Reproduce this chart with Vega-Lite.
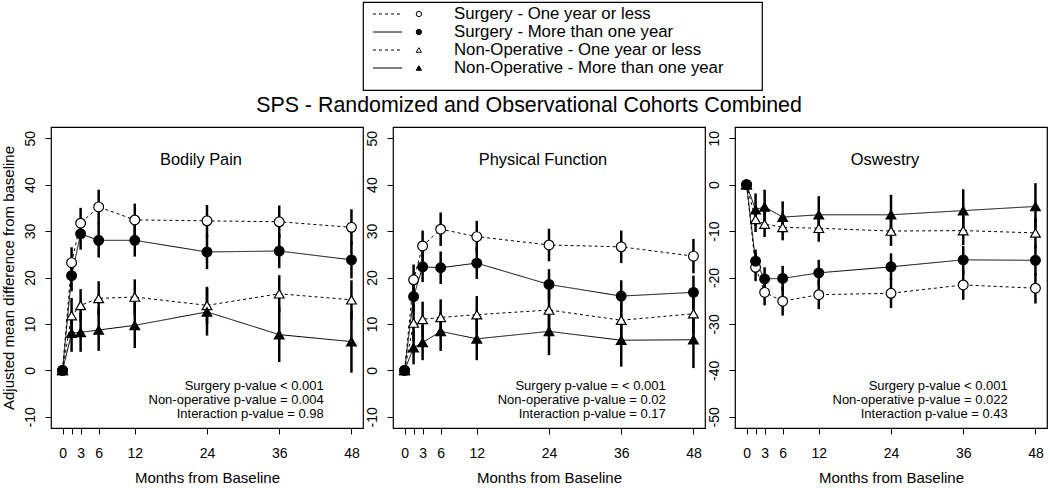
{
  "$schema": "https://vega.github.io/schema/vega-lite/v6.json",
  "padding": {"left": 0, "top": 1, "right": 0, "bottom": 0},
  "autosize": {"type": "pad"},
  "background": "white",
  "datasets": {
    "legend": [
      {"series": "Surgery - One year or less"},
      {"series": "Surgery - More than one year"},
      {"series": "Non-Operative - One year or less"},
      {"series": "Non-Operative - More than one year"}
    ],
    "d": [
      {"panel": "Bodily Pain", "series": "Surgery - One year or less", "month": 0, "mean": 0, "lo": null, "hi": null},
      {"panel": "Bodily Pain", "series": "Surgery - One year or less", "month": 1.5, "mean": 23.2, "lo": 19.9, "hi": 26.5},
      {"panel": "Bodily Pain", "series": "Surgery - One year or less", "month": 3, "mean": 31.7, "lo": 28.3, "hi": 35.0},
      {"panel": "Bodily Pain", "series": "Surgery - One year or less", "month": 6, "mean": 35.2, "lo": 31.4, "hi": 38.9},
      {"panel": "Bodily Pain", "series": "Surgery - One year or less", "month": 12, "mean": 32.4, "lo": 29.0, "hi": 35.9},
      {"panel": "Bodily Pain", "series": "Surgery - One year or less", "month": 24, "mean": 32.2, "lo": 28.7, "hi": 35.6},
      {"panel": "Bodily Pain", "series": "Surgery - One year or less", "month": 36, "mean": 32.0, "lo": 28.5, "hi": 35.5},
      {"panel": "Bodily Pain", "series": "Surgery - One year or less", "month": 48, "mean": 30.8, "lo": 27.0, "hi": 34.7},
      {"panel": "Bodily Pain", "series": "Surgery - More than one year", "month": 0, "mean": 0, "lo": null, "hi": null},
      {"panel": "Bodily Pain", "series": "Surgery - More than one year", "month": 1.5, "mean": 20.4, "lo": 17.0, "hi": 23.8},
      {"panel": "Bodily Pain", "series": "Surgery - More than one year", "month": 3, "mean": 29.4, "lo": 26.0, "hi": 32.8},
      {"panel": "Bodily Pain", "series": "Surgery - More than one year", "month": 6, "mean": 28.0, "lo": 24.3, "hi": 31.7},
      {"panel": "Bodily Pain", "series": "Surgery - More than one year", "month": 12, "mean": 28.0, "lo": 24.5, "hi": 31.5},
      {"panel": "Bodily Pain", "series": "Surgery - More than one year", "month": 24, "mean": 25.5, "lo": 21.8, "hi": 29.2},
      {"panel": "Bodily Pain", "series": "Surgery - More than one year", "month": 36, "mean": 25.7, "lo": 22.0, "hi": 29.4},
      {"panel": "Bodily Pain", "series": "Surgery - More than one year", "month": 48, "mean": 23.8, "lo": 19.8, "hi": 27.8},
      {"panel": "Bodily Pain", "series": "Non-Operative - One year or less", "month": 0, "mean": 0, "lo": null, "hi": null},
      {"panel": "Bodily Pain", "series": "Non-Operative - One year or less", "month": 1.5, "mean": 11.8, "lo": 8.0, "hi": 15.6},
      {"panel": "Bodily Pain", "series": "Non-Operative - One year or less", "month": 3, "mean": 14.0, "lo": 10.5, "hi": 17.5},
      {"panel": "Bodily Pain", "series": "Non-Operative - One year or less", "month": 6, "mean": 15.5, "lo": 11.8, "hi": 19.2},
      {"panel": "Bodily Pain", "series": "Non-Operative - One year or less", "month": 12, "mean": 15.8, "lo": 12.0, "hi": 19.6},
      {"panel": "Bodily Pain", "series": "Non-Operative - One year or less", "month": 24, "mean": 14.0, "lo": 10.0, "hi": 18.0},
      {"panel": "Bodily Pain", "series": "Non-Operative - One year or less", "month": 36, "mean": 16.5, "lo": 12.5, "hi": 20.5},
      {"panel": "Bodily Pain", "series": "Non-Operative - One year or less", "month": 48, "mean": 15.2, "lo": 11.0, "hi": 19.4},
      {"panel": "Bodily Pain", "series": "Non-Operative - More than one year", "month": 0, "mean": 0, "lo": null, "hi": null},
      {"panel": "Bodily Pain", "series": "Non-Operative - More than one year", "month": 1.5, "mean": 8.0, "lo": 4.0, "hi": 12.0},
      {"panel": "Bodily Pain", "series": "Non-Operative - More than one year", "month": 3, "mean": 8.2, "lo": 4.0, "hi": 12.4},
      {"panel": "Bodily Pain", "series": "Non-Operative - More than one year", "month": 6, "mean": 8.7, "lo": 4.2, "hi": 13.2},
      {"panel": "Bodily Pain", "series": "Non-Operative - More than one year", "month": 12, "mean": 9.7, "lo": 4.8, "hi": 14.6},
      {"panel": "Bodily Pain", "series": "Non-Operative - More than one year", "month": 24, "mean": 12.6, "lo": 7.5, "hi": 17.7},
      {"panel": "Bodily Pain", "series": "Non-Operative - More than one year", "month": 36, "mean": 7.7, "lo": 1.8, "hi": 13.6},
      {"panel": "Bodily Pain", "series": "Non-Operative - More than one year", "month": 48, "mean": 6.2, "lo": -0.5, "hi": 12.9},

      {"panel": "Physical Function", "series": "Surgery - One year or less", "month": 0, "mean": 0, "lo": null, "hi": null},
      {"panel": "Physical Function", "series": "Surgery - One year or less", "month": 1.5, "mean": 19.5, "lo": 16.2, "hi": 22.8},
      {"panel": "Physical Function", "series": "Surgery - One year or less", "month": 3, "mean": 26.8, "lo": 23.5, "hi": 30.1},
      {"panel": "Physical Function", "series": "Surgery - One year or less", "month": 6, "mean": 30.4, "lo": 26.8, "hi": 34.0},
      {"panel": "Physical Function", "series": "Surgery - One year or less", "month": 12, "mean": 28.8, "lo": 25.4, "hi": 32.2},
      {"panel": "Physical Function", "series": "Surgery - One year or less", "month": 24, "mean": 27.0, "lo": 23.5, "hi": 30.5},
      {"panel": "Physical Function", "series": "Surgery - One year or less", "month": 36, "mean": 26.6, "lo": 23.1, "hi": 30.1},
      {"panel": "Physical Function", "series": "Surgery - One year or less", "month": 48, "mean": 24.6, "lo": 20.9, "hi": 28.3},
      {"panel": "Physical Function", "series": "Surgery - More than one year", "month": 0, "mean": 0, "lo": null, "hi": null},
      {"panel": "Physical Function", "series": "Surgery - More than one year", "month": 1.5, "mean": 15.9, "lo": 12.5, "hi": 19.3},
      {"panel": "Physical Function", "series": "Surgery - More than one year", "month": 3, "mean": 22.3, "lo": 19.0, "hi": 25.6},
      {"panel": "Physical Function", "series": "Surgery - More than one year", "month": 6, "mean": 22.1, "lo": 18.6, "hi": 25.6},
      {"panel": "Physical Function", "series": "Surgery - More than one year", "month": 12, "mean": 23.1, "lo": 19.7, "hi": 26.5},
      {"panel": "Physical Function", "series": "Surgery - More than one year", "month": 24, "mean": 18.5, "lo": 15.2, "hi": 21.8},
      {"panel": "Physical Function", "series": "Surgery - More than one year", "month": 36, "mean": 16.0, "lo": 12.6, "hi": 19.4},
      {"panel": "Physical Function", "series": "Surgery - More than one year", "month": 48, "mean": 16.8, "lo": 13.2, "hi": 20.4},
      {"panel": "Physical Function", "series": "Non-Operative - One year or less", "month": 0, "mean": 0, "lo": null, "hi": null},
      {"panel": "Physical Function", "series": "Non-Operative - One year or less", "month": 1.5, "mean": 10.2, "lo": 6.3, "hi": 14.1},
      {"panel": "Physical Function", "series": "Non-Operative - One year or less", "month": 3, "mean": 11.0, "lo": 7.2, "hi": 14.8},
      {"panel": "Physical Function", "series": "Non-Operative - One year or less", "month": 6, "mean": 11.4, "lo": 7.5, "hi": 15.3},
      {"panel": "Physical Function", "series": "Non-Operative - One year or less", "month": 12, "mean": 12.0, "lo": 8.0, "hi": 16.0},
      {"panel": "Physical Function", "series": "Non-Operative - One year or less", "month": 24, "mean": 13.0, "lo": 8.8, "hi": 17.2},
      {"panel": "Physical Function", "series": "Non-Operative - One year or less", "month": 36, "mean": 10.8, "lo": 6.6, "hi": 15.0},
      {"panel": "Physical Function", "series": "Non-Operative - One year or less", "month": 48, "mean": 12.2, "lo": 7.8, "hi": 16.6},
      {"panel": "Physical Function", "series": "Non-Operative - More than one year", "month": 0, "mean": 0, "lo": null, "hi": null},
      {"panel": "Physical Function", "series": "Non-Operative - More than one year", "month": 1.5, "mean": 4.9, "lo": 1.3, "hi": 8.5},
      {"panel": "Physical Function", "series": "Non-Operative - More than one year", "month": 3, "mean": 6.0, "lo": 2.2, "hi": 9.8},
      {"panel": "Physical Function", "series": "Non-Operative - More than one year", "month": 6, "mean": 8.4, "lo": 4.2, "hi": 12.6},
      {"panel": "Physical Function", "series": "Non-Operative - More than one year", "month": 12, "mean": 6.8, "lo": 2.2, "hi": 11.4},
      {"panel": "Physical Function", "series": "Non-Operative - More than one year", "month": 24, "mean": 8.4, "lo": 3.3, "hi": 13.5},
      {"panel": "Physical Function", "series": "Non-Operative - More than one year", "month": 36, "mean": 6.5, "lo": 0.8, "hi": 12.2},
      {"panel": "Physical Function", "series": "Non-Operative - More than one year", "month": 48, "mean": 6.6, "lo": 0.5, "hi": 12.7},

      {"panel": "Oswestry", "series": "Surgery - One year or less", "month": 0, "mean": 0, "lo": null, "hi": null},
      {"panel": "Oswestry", "series": "Surgery - One year or less", "month": 1.5, "mean": -17.8, "lo": -20.8, "hi": -14.8},
      {"panel": "Oswestry", "series": "Surgery - One year or less", "month": 3, "mean": -23.2, "lo": -26.0, "hi": -20.4},
      {"panel": "Oswestry", "series": "Surgery - One year or less", "month": 6, "mean": -25.1, "lo": -28.2, "hi": -22.0},
      {"panel": "Oswestry", "series": "Surgery - One year or less", "month": 12, "mean": -23.7, "lo": -26.8, "hi": -20.6},
      {"panel": "Oswestry", "series": "Surgery - One year or less", "month": 24, "mean": -23.4, "lo": -26.6, "hi": -20.2},
      {"panel": "Oswestry", "series": "Surgery - One year or less", "month": 36, "mean": -21.6, "lo": -24.8, "hi": -18.4},
      {"panel": "Oswestry", "series": "Surgery - One year or less", "month": 48, "mean": -22.3, "lo": -25.6, "hi": -19.0},
      {"panel": "Oswestry", "series": "Surgery - More than one year", "month": 0, "mean": 0, "lo": null, "hi": null},
      {"panel": "Oswestry", "series": "Surgery - More than one year", "month": 1.5, "mean": -16.5, "lo": -19.0, "hi": -14.0},
      {"panel": "Oswestry", "series": "Surgery - More than one year", "month": 3, "mean": -20.3, "lo": -22.8, "hi": -17.8},
      {"panel": "Oswestry", "series": "Surgery - More than one year", "month": 6, "mean": -20.2, "lo": -22.9, "hi": -17.5},
      {"panel": "Oswestry", "series": "Surgery - More than one year", "month": 12, "mean": -19.0, "lo": -21.8, "hi": -16.2},
      {"panel": "Oswestry", "series": "Surgery - More than one year", "month": 24, "mean": -17.7, "lo": -20.6, "hi": -14.8},
      {"panel": "Oswestry", "series": "Surgery - More than one year", "month": 36, "mean": -16.2, "lo": -19.2, "hi": -13.2},
      {"panel": "Oswestry", "series": "Surgery - More than one year", "month": 48, "mean": -16.3, "lo": -19.6, "hi": -13.0},
      {"panel": "Oswestry", "series": "Non-Operative - One year or less", "month": 0, "mean": 0, "lo": null, "hi": null},
      {"panel": "Oswestry", "series": "Non-Operative - One year or less", "month": 1.5, "mean": -7.5, "lo": -10.2, "hi": -4.8},
      {"panel": "Oswestry", "series": "Non-Operative - One year or less", "month": 3, "mean": -8.5, "lo": -11.3, "hi": -5.7},
      {"panel": "Oswestry", "series": "Non-Operative - One year or less", "month": 6, "mean": -9.2, "lo": -12.0, "hi": -6.4},
      {"panel": "Oswestry", "series": "Non-Operative - One year or less", "month": 12, "mean": -9.4, "lo": -12.3, "hi": -6.5},
      {"panel": "Oswestry", "series": "Non-Operative - One year or less", "month": 24, "mean": -10.0, "lo": -13.2, "hi": -6.8},
      {"panel": "Oswestry", "series": "Non-Operative - One year or less", "month": 36, "mean": -9.9, "lo": -13.0, "hi": -6.8},
      {"panel": "Oswestry", "series": "Non-Operative - One year or less", "month": 48, "mean": -10.4, "lo": -13.7, "hi": -7.1},
      {"panel": "Oswestry", "series": "Non-Operative - More than one year", "month": 0, "mean": 0, "lo": null, "hi": null},
      {"panel": "Oswestry", "series": "Non-Operative - More than one year", "month": 1.5, "mean": -5.4, "lo": -8.9, "hi": -1.9},
      {"panel": "Oswestry", "series": "Non-Operative - More than one year", "month": 3, "mean": -4.8, "lo": -8.5, "hi": -1.1},
      {"panel": "Oswestry", "series": "Non-Operative - More than one year", "month": 6, "mean": -7.0, "lo": -10.4, "hi": -3.6},
      {"panel": "Oswestry", "series": "Non-Operative - More than one year", "month": 12, "mean": -6.5, "lo": -10.5, "hi": -2.5},
      {"panel": "Oswestry", "series": "Non-Operative - More than one year", "month": 24, "mean": -6.5, "lo": -10.8, "hi": -2.2},
      {"panel": "Oswestry", "series": "Non-Operative - More than one year", "month": 36, "mean": -5.6, "lo": -10.2, "hi": -1.0},
      {"panel": "Oswestry", "series": "Non-Operative - More than one year", "month": 48, "mean": -4.7, "lo": -9.4, "hi": 0.3}
    ]
  },
  "vconcat": [
    {
      "spacing": 0,
      "hconcat": [
        {
          "width": 311, "height": 88,
          "view": {"stroke": null},
          "data": {"values": [{}]},
          "mark": {"type": "point", "opacity": 0},
          "encoding": {}
        },
        {
          "width": 399, "height": 88,
          "data": {"name": "legend"},
          "encoding": {
            "y": {"field": "series", "type": "nominal", "sort": null, "axis": null,
                  "scale": {"type": "point", "range": [12, 66], "padding": 0}}
          },
          "layer": [
            {
              "mark": {"type": "rule", "stroke": "black", "strokeWidth": 1},
              "encoding": {
                "x": {"datum": 2.5, "type": "quantitative", "scale": {"domain": [0, 100]}, "axis": null},
                "x2": {"datum": 9.8},
                "strokeDash": {"field": "series", "type": "nominal", "legend": null,
                  "scale": {"domain": ["Surgery - One year or less", "Surgery - More than one year", "Non-Operative - One year or less", "Non-Operative - More than one year"],
                            "range": [[3, 3], [1, 0], [3, 3], [1, 0]]}}
              }
            },
            {
              "mark": {"type": "point", "filled": true, "stroke": "black", "strokeWidth": 1, "opacity": 1, "size": 28},
              "encoding": {
                "x": {"datum": 14, "type": "quantitative"},
                "shape": {"field": "series", "type": "nominal", "legend": null,
                  "scale": {"domain": ["Surgery - One year or less", "Surgery - More than one year", "Non-Operative - One year or less", "Non-Operative - More than one year"],
                            "range": ["circle", "circle", "triangle-up", "triangle-up"]}},
                "fill": {"field": "series", "type": "nominal", "legend": null,
                  "scale": {"domain": ["Surgery - One year or less", "Surgery - More than one year", "Non-Operative - One year or less", "Non-Operative - More than one year"],
                            "range": ["white", "black", "white", "black"]}}
              }
            },
            {
              "mark": {"type": "text", "align": "left", "baseline": "middle", "fontSize": 16.8, "font": "Liberation Sans", "color": "black"},
              "encoding": {
                "x": {"datum": 22.8, "type": "quantitative"},
                "text": {"field": "series"}
              }
            }
          ]
        }
      ]
    },
    {
      "title": {"text": "SPS - Randomized and Observational Cohorts Combined", "anchor": "middle", "offset": 10, "dx": 5},
      "spacing": 30,
      "bounds": "flush",
      "hconcat": [
        {
          "width": 312, "height": 301,
          "layer": [
            {
              "data": {"name": "d"},
              "transform": [{"filter": "datum.panel == 'Bodily Pain' && datum.month > 0"}],
              "mark": {"type": "rule", "stroke": "black", "strokeWidth": 2.5},
              "encoding": {
                "x": {"field": "month", "type": "quantitative", "scale": {"domain": [-1.92, 49.92], "nice": false, "zero": false},
                      "axis": {"values": [0, 1.5, 3, 6, 12, 24, 36, 48], "labelExpr": "datum.value == 1.5 ? '' : datum.label", "title": "Months from Baseline", "labelFlush": false, "labelOverlap": false}},
                "y": {"field": "lo", "type": "quantitative", "scale": {"domain": [-12.4, 52.4], "nice": false, "zero": false},
                      "axis": {"values": [-10, 0, 10, 20, 30, 40, 50], "labelExpr": "'' + datum.value", "title": "Adjusted mean difference from baseline"}},
                "y2": {"field": "hi"}
              }
            },
            {
              "data": {"name": "d"},
              "transform": [{"filter": "datum.panel == 'Bodily Pain'"}],
              "mark": {"type": "line", "stroke": "black", "strokeWidth": 1},
              "encoding": {
                "x": {"field": "month", "type": "quantitative"},
                "y": {"field": "mean", "type": "quantitative"},
                "detail": {"field": "series"},
                "strokeDash": {"field": "series", "type": "nominal", "legend": null,
                  "scale": {"domain": ["Surgery - One year or less", "Surgery - More than one year", "Non-Operative - One year or less", "Non-Operative - More than one year"],
                            "range": [[5, 4], [1, 0], [5, 4], [1, 0]]}}
              }
            },
            {
              "data": {"name": "d"},
              "transform": [{"filter": "datum.panel == 'Bodily Pain'"}],
              "mark": {"type": "point", "filled": true, "stroke": "black", "strokeWidth": 1.2, "opacity": 1, "size": 95},
              "encoding": {
                "x": {"field": "month", "type": "quantitative"},
                "y": {"field": "mean", "type": "quantitative"},
                "shape": {"field": "series", "type": "nominal", "legend": null,
                  "scale": {"domain": ["Surgery - One year or less", "Surgery - More than one year", "Non-Operative - One year or less", "Non-Operative - More than one year"],
                            "range": ["circle", "circle", "triangle-up", "triangle-up"]}},
                "fill": {"field": "series", "type": "nominal", "legend": null,
                  "scale": {"domain": ["Surgery - One year or less", "Surgery - More than one year", "Non-Operative - One year or less", "Non-Operative - More than one year"],
                            "range": ["transparent", "black", "transparent", "black"]}}
              }
            },
            {
              "data": {"values": [{}]},
              "mark": {"type": "text", "fontSize": 16.4, "align": "center", "baseline": "middle"},
              "encoding": {"x": {"datum": 23}, "y": {"datum": 45.3}, "text": {"value": "Bodily Pain"}}
            },
            {
              "data": {"values": [{}]},
              "mark": {"type": "text", "fontSize": 13, "align": "right", "baseline": "middle", "lineHeight": 14,
                       "text": ["Surgery p-value < 0.001", "Non-operative p-value = 0.004", "Interaction p-value = 0.98"]},
              "encoding": {"x": {"datum": 43.4}, "y": {"datum": -3.4}}
            }
          ]
        },
        {
          "width": 312, "height": 301,
          "layer": [
            {
              "data": {"name": "d"},
              "transform": [{"filter": "datum.panel == 'Physical Function' && datum.month > 0"}],
              "mark": {"type": "rule", "stroke": "black", "strokeWidth": 2.5},
              "encoding": {
                "x": {"field": "month", "type": "quantitative", "scale": {"domain": [-1.92, 49.92], "nice": false, "zero": false},
                      "axis": {"values": [0, 1.5, 3, 6, 12, 24, 36, 48], "labelExpr": "datum.value == 1.5 ? '' : datum.label", "title": "Months from Baseline", "labelFlush": false, "labelOverlap": false}},
                "y": {"field": "lo", "type": "quantitative", "scale": {"domain": [-12.4, 52.4], "nice": false, "zero": false},
                      "axis": {"values": [-10, 0, 10, 20, 30, 40, 50], "labelExpr": "'' + datum.value", "title": null}},
                "y2": {"field": "hi"}
              }
            },
            {
              "data": {"name": "d"},
              "transform": [{"filter": "datum.panel == 'Physical Function'"}],
              "mark": {"type": "line", "stroke": "black", "strokeWidth": 1},
              "encoding": {
                "x": {"field": "month", "type": "quantitative"},
                "y": {"field": "mean", "type": "quantitative"},
                "detail": {"field": "series"},
                "strokeDash": {"field": "series", "type": "nominal", "legend": null,
                  "scale": {"domain": ["Surgery - One year or less", "Surgery - More than one year", "Non-Operative - One year or less", "Non-Operative - More than one year"],
                            "range": [[5, 4], [1, 0], [5, 4], [1, 0]]}}
              }
            },
            {
              "data": {"name": "d"},
              "transform": [{"filter": "datum.panel == 'Physical Function'"}],
              "mark": {"type": "point", "filled": true, "stroke": "black", "strokeWidth": 1.2, "opacity": 1, "size": 95},
              "encoding": {
                "x": {"field": "month", "type": "quantitative"},
                "y": {"field": "mean", "type": "quantitative"},
                "shape": {"field": "series", "type": "nominal", "legend": null,
                  "scale": {"domain": ["Surgery - One year or less", "Surgery - More than one year", "Non-Operative - One year or less", "Non-Operative - More than one year"],
                            "range": ["circle", "circle", "triangle-up", "triangle-up"]}},
                "fill": {"field": "series", "type": "nominal", "legend": null,
                  "scale": {"domain": ["Surgery - One year or less", "Surgery - More than one year", "Non-Operative - One year or less", "Non-Operative - More than one year"],
                            "range": ["transparent", "black", "transparent", "black"]}}
              }
            },
            {
              "data": {"values": [{}]},
              "mark": {"type": "text", "fontSize": 16.4, "align": "center", "baseline": "middle"},
              "encoding": {"x": {"datum": 23}, "y": {"datum": 45.3}, "text": {"value": "Physical Function"}}
            },
            {
              "data": {"values": [{}]},
              "mark": {"type": "text", "fontSize": 13, "align": "right", "baseline": "middle", "lineHeight": 14,
                       "text": ["Surgery p-value = < 0.001", "Non-operative p-value = 0.02 ", "Interaction p-value = 0.17"]},
              "encoding": {"x": {"datum": 43.4}, "y": {"datum": -3.4}}
            }
          ]
        },
        {
          "width": 312, "height": 301,
          "layer": [
            {
              "data": {"name": "d"},
              "transform": [{"filter": "datum.panel == 'Oswestry' && datum.month > 0"}],
              "mark": {"type": "rule", "stroke": "black", "strokeWidth": 2.5},
              "encoding": {
                "x": {"field": "month", "type": "quantitative", "scale": {"domain": [-1.92, 49.92], "nice": false, "zero": false},
                      "axis": {"values": [0, 1.5, 3, 6, 12, 24, 36, 48], "labelExpr": "datum.value == 1.5 ? '' : datum.label", "title": "Months from Baseline", "labelFlush": false, "labelOverlap": false}},
                "y": {"field": "lo", "type": "quantitative", "scale": {"domain": [-52.4, 12.4], "nice": false, "zero": false},
                      "axis": {"values": [-50, -40, -30, -20, -10, 0, 10], "labelExpr": "'' + datum.value", "title": null}},
                "y2": {"field": "hi"}
              }
            },
            {
              "data": {"name": "d"},
              "transform": [{"filter": "datum.panel == 'Oswestry'"}],
              "mark": {"type": "line", "stroke": "black", "strokeWidth": 1},
              "encoding": {
                "x": {"field": "month", "type": "quantitative"},
                "y": {"field": "mean", "type": "quantitative"},
                "detail": {"field": "series"},
                "strokeDash": {"field": "series", "type": "nominal", "legend": null,
                  "scale": {"domain": ["Surgery - One year or less", "Surgery - More than one year", "Non-Operative - One year or less", "Non-Operative - More than one year"],
                            "range": [[5, 4], [1, 0], [5, 4], [1, 0]]}}
              }
            },
            {
              "data": {"name": "d"},
              "transform": [{"filter": "datum.panel == 'Oswestry'"}],
              "mark": {"type": "point", "filled": true, "stroke": "black", "strokeWidth": 1.2, "opacity": 1, "size": 95},
              "encoding": {
                "x": {"field": "month", "type": "quantitative"},
                "y": {"field": "mean", "type": "quantitative"},
                "shape": {"field": "series", "type": "nominal", "legend": null,
                  "scale": {"domain": ["Surgery - One year or less", "Surgery - More than one year", "Non-Operative - One year or less", "Non-Operative - More than one year"],
                            "range": ["circle", "circle", "triangle-up", "triangle-up"]}},
                "fill": {"field": "series", "type": "nominal", "legend": null,
                  "scale": {"domain": ["Surgery - One year or less", "Surgery - More than one year", "Non-Operative - One year or less", "Non-Operative - More than one year"],
                            "range": ["transparent", "black", "transparent", "black"]}}
              }
            },
            {
              "data": {"values": [{}]},
              "mark": {"type": "text", "fontSize": 16.4, "align": "center", "baseline": "middle"},
              "encoding": {"x": {"datum": 23}, "y": {"datum": 5.3}, "text": {"value": "Oswestry"}}
            },
            {
              "data": {"values": [{}]},
              "mark": {"type": "text", "fontSize": 13, "align": "right", "baseline": "middle", "lineHeight": 14,
                       "text": ["Surgery p-value < 0.001", "Non-operative p-value = 0.022", "Interaction p-value = 0.43"]},
              "encoding": {"x": {"datum": 43.4}, "y": {"datum": -43.4}}
            }
          ]
        }
      ]
    }
  ],
  "spacing": 4,
  "config": {
    "font": "Liberation Sans",
    "view": {"stroke": "black", "strokeWidth": 1.2},
    "axis": {"domain": false, "grid": false, "ticks": true, "tickColor": "black", "tickSize": 6, "tickWidth": 1,
             "labelColor": "black", "labelFontSize": 14, "labelFont": "Liberation Sans", "labelPadding": 6,
             "titleFont": "Liberation Sans", "titleFontSize": 15, "titleFontWeight": "normal", "titleColor": "black"},
    "axisY": {"labelAngle": -90, "titlePadding": 7, "labelPadding": 8},
    "axisX": {"titlePadding": 10, "labelPadding": 12},
    "title": {"font": "Liberation Sans", "fontSize": 21.4, "fontWeight": "normal", "color": "black"},
    "text": {"font": "Liberation Sans", "color": "black"}
  }
}
